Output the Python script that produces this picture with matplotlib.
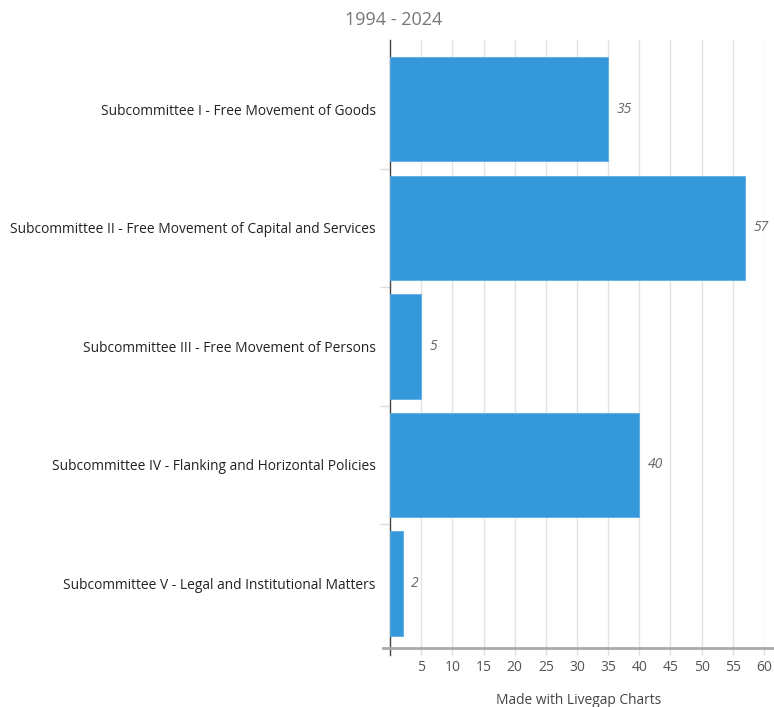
import matplotlib.pyplot as plt
import numpy as np

categories = ['Subcommittee I - Free Movement of Goods',
              'Subcommittee II - Free Movement of Capital and Services',
              'Subcommittee III - Free Movement of Persons',
              'Subcommittee IV - Flanking and Horizontal Policies',
              'Subcommittee V - Legal and Institutional Matters']
values = [35, 57, 5, 40, 2]
subtitle = '1994 - 2024'
x_ticks = list(range(5, 61, 5))

plt.rcParams['font.family'] = ['Open Sans', 'DejaVu Sans']

fig = plt.figure(figsize=(7.74, 7.07), dpi=100)
ax = fig.add_axes([0.504, 0.0835, 0.483, 0.8595])

Y = np.arange(len(categories))
ax.barh(Y, values, height=0.88, color='#3498db', edgecolor='#5aaee6', linewidth=0.6, zorder=3)

for y, v in zip(Y, values):
    ax.text(v + 1.3, y, str(v), va='center', ha='left', fontsize=10,
            style='italic', color='#666666')

ax.set_xlim(0, 60)
ax.set_ylim(4.544, -0.582)
ax.set_xticks(x_ticks)
ax.set_xticklabels([str(t) for t in x_ticks], fontsize=10, color='#555555')
ax.set_yticks(Y)
ax.set_yticklabels(categories, fontsize=9.9, color='#222222')
ax.set_yticks(Y[:-1] + 0.5, minor=True)
ax.tick_params(axis='y', which='major', length=0, pad=10.5)
ax.tick_params(axis='y', which='minor', length=7, color='#dddddd', width=1)
ax.tick_params(axis='x', length=5, color='#dddddd', width=1, pad=4)

ax.grid(axis='x', color='#e3e3e3', linewidth=1, zorder=0)
for s in ['top', 'right', 'bottom']:
    ax.spines[s].set_visible(False)
ax.spines['left'].set_color('#444444')
ax.spines['left'].set_linewidth(1)
ax.spines['left'].set_bounds(4.6, -0.582)

# bottom axis line extending past the left spine
ax.plot([-0.02, 1.03], [0, 0], transform=ax.transAxes, color='#aaaaaa',
        linewidth=2, clip_on=False, zorder=4)

fig.text(0.508, 0.972, subtitle, ha='center', va='center', fontsize=13, color='#777777')
fig.text(0.748, 0.009, 'Made with Livegap Charts', ha='center', va='center',
         fontsize=9.9, color='#444444')

fig.savefig('out.png', dpi=100)
plt.close(fig)
